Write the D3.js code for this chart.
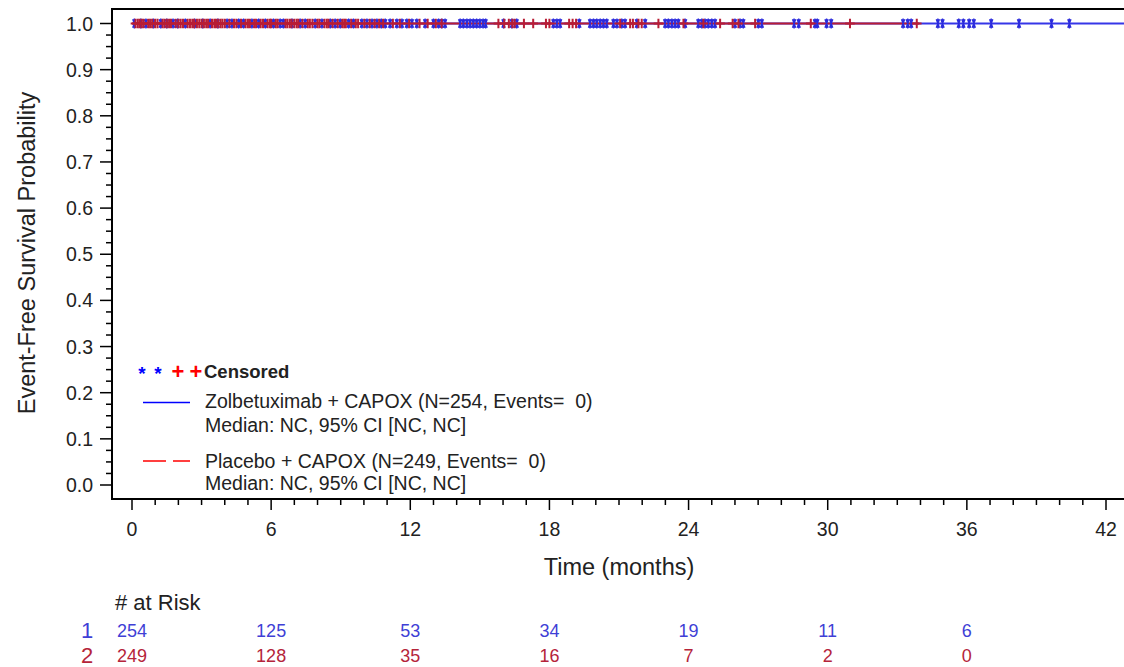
<!DOCTYPE html>
<html lang="en">
<head>
<meta charset="utf-8">
<title>Event-Free Survival - Kaplan-Meier</title>
<script src="https://d3js.org/d3.v7.min.js"></script>
<style>
  body { margin: 0; background: #fff; }
  svg text { font-family: "Liberation Sans", Arial, sans-serif; fill: #222; }
</style>
</head>
<body>
<script>
// ---- data ----
var armNames = ["Zolbetuximab + CAPOX (N=254, Events=  0)", "Placebo + CAPOX (N=249, Events=  0)"];
var medianText = ["Median: NC, 95% CI [NC, NC]", "Median: NC, 95% CI [NC, NC]"];

// censoring times (months), both arms stay at probability 1.0
var blueCensor = [0.1, 0.38, 0.6, 0.92, 1.24, 1.5, 1.77, 1.97, 2.3, 2.7, 3.05, 3.37, 3.7, 4.1, 4.31, 4.6, 4.81,
  5.17, 5.46, 5.75, 6.1, 6.39, 6.53, 6.9, 7.25, 7.47, 7.9, 8.19, 8.55, 8.76, 8.98, 9.34, 9.55, 9.91, 10.13,
  10.35, 10.56, 10.75, 10.92, 11.13, 11.42, 11.64, 11.85, 12.07, 12.28, 12.64, 13.0, 13.22, 13.36, 13.5,
  14.15, 14.29, 14.44, 14.58, 14.72, 14.86, 15.0, 15.14, 15.25, 16.02, 16.38, 16.59,
  18.17, 18.32, 18.46, 19.29, 19.75, 19.9, 20.04, 20.19, 20.33, 20.47, 20.76, 20.91, 21.12, 21.26,
  21.77, 22.13, 22.99, 23.13, 23.28, 23.42, 23.56, 23.85,
  24.42, 24.57, 24.71, 24.85, 25.0, 25.14, 26.0, 26.22, 26.36, 27.01, 27.16,
  28.55, 28.75, 29.45, 29.55, 29.95, 30.15, 33.25, 33.45, 33.6, 34.75, 34.95,
  35.65, 35.85, 36.1, 36.3, 37.05, 38.25, 39.65, 40.42];

var redCensor = [0.15, 0.25, 0.33, 0.42, 0.5, 0.7, 0.78, 0.87, 1.0, 1.1, 1.32, 1.4, 1.5, 1.6, 1.68, 1.88, 2.0, 2.1,
  2.2, 2.4, 2.5, 2.6, 2.68, 2.8, 2.9, 3.0, 3.1, 3.2, 3.28, 3.45, 3.55, 3.62, 3.72, 3.82, 3.9, 4.0, 4.2, 4.4, 4.5,
  4.7, 4.9, 5.0, 5.08, 5.27, 5.35, 5.55, 5.65, 5.85, 5.95, 6.0, 6.2, 6.28, 6.62, 6.7, 6.8, 6.88, 7.0, 7.1, 7.17,
  7.35, 7.58, 7.67, 7.78, 8.0, 8.08, 8.3, 8.4, 8.47, 8.65, 8.87, 9.07, 9.15, 9.22, 9.45, 9.65, 9.75, 10.02,
  10.25, 10.46, 10.66, 10.83, 11.25, 11.55, 11.95, 12.4, 12.75, 13.1, 13.35,
  15.8, 16.05, 16.25, 16.4, 16.5, 16.9, 17.3, 17.85, 18.0, 18.85, 19.0, 19.15, 21.05, 21.48, 21.6, 21.84,
  21.98, 22.7, 23.78, 24.64, 25.36, 25.9, 26.15, 26.87, 29.27, 30.96, 33.84];

var atRiskTimes = [0, 6, 12, 18, 24, 30, 36];
var atRiskBlue = [254, 125, 53, 34, 19, 11, 6];
var atRiskRed = [249, 128, 35, 16, 7, 2, 0];

var xTickVals = [0, 6, 12, 18, 24, 30, 36, 42];
var yTickVals = [0, 0.1, 0.2, 0.3, 0.4, 0.5, 0.6, 0.7, 0.8, 0.9, 1.0];

// ---- drawing ----
var W = 1124, H = 667;
var blue = "#3636e8", blueMark = "#2b2bdc", red = "#b81d35";

var svg = d3.select("body").append("svg").attr("width", W).attr("height", H);

var x = d3.scaleLinear().domain([0, 42]).range([132, 1106]);
var y = d3.scaleLinear().domain([0, 1]).range([485, 23.5]);

var frameL = 112, frameT = 9, frameB = 499, frameR = x(43.2);

// frame
svg.append("path")
    .attr("d", "M" + frameR + "," + frameT + "H" + frameL + "V" + frameB + "H" + frameR)
    .attr("fill", "none").attr("stroke", "#000").attr("stroke-width", 2);

// y axis ticks
var yMinor = d3.range(0, 1.0001, 0.025);
svg.append("g").selectAll("line").data(yMinor).join("line")
    .attr("x1", function(d) { return Math.abs(d * 10 - Math.round(d * 10)) < 1e-6 ? frameL - 12 : frameL - 6; })
    .attr("x2", frameL)
    .attr("y1", d => y(d)).attr("y2", d => y(d))
    .attr("stroke", "#000").attr("stroke-width", 1.5);

svg.append("g").selectAll("text").data(yTickVals).join("text")
    .attr("x", 93).attr("y", d => y(d))
    .attr("dy", "0.36em").attr("text-anchor", "end")
    .style("font-size", "19.5px")
    .text(d => d3.format(".1f")(d));

// x axis ticks
var xMinor = d3.range(0, 43, 1);
svg.append("g").selectAll("line").data(xMinor).join("line")
    .attr("x1", d => x(d)).attr("x2", d => x(d))
    .attr("y1", frameB)
    .attr("y2", d => d % 6 === 0 ? frameB + 11 : frameB + 6)
    .attr("stroke", "#000").attr("stroke-width", 1.5);

svg.append("g").selectAll("text").data(xTickVals).join("text")
    .attr("x", d => x(d)).attr("y", 536)
    .attr("text-anchor", "middle")
    .style("font-size", "19.5px")
    .text(d => d);

// axis titles
svg.append("text")
    .attr("x", x(21)).attr("y", 575)
    .attr("text-anchor", "middle")
    .style("font-size", "23.5px")
    .text("Time (months)");

svg.append("text")
    .attr("transform", "translate(35,253) rotate(-90)")
    .attr("text-anchor", "middle")
    .style("font-size", "23.5px")
    .text("Event-Free Survival Probability");

// survival lines (no events, flat at 1.0)
var line = d3.line().x(d => x(d[0])).y(d => y(d[1]));
var plot = svg.append("g");
plot.append("path")
    .attr("d", line([[0, 1], [43.2, 1]]))
    .attr("stroke", blue).attr("stroke-width", 2).attr("fill", "none");
plot.append("path")
    .attr("d", line([[0, 1], [d3.max(redCensor) + 0.1, 1]]))
    .attr("stroke", red).attr("stroke-width", 2).attr("fill", "none");

// censor marks: narrow asterisk for arm 1, plus for arm 2
var asterisk = {
  draw: function(ctx, size) {
    var r = Math.sqrt(size) / 2, dx = r * 0.32, dy = r * 0.85;
    ctx.moveTo(0, -r); ctx.lineTo(0, r);
    ctx.moveTo(-dx, -dy); ctx.lineTo(dx, dy);
    ctx.moveTo(-dx, dy); ctx.lineTo(dx, -dy);
  }
};
var plus = {
  draw: function(ctx, size) {
    var r = Math.sqrt(size) / 2;
    ctx.moveTo(0, -r); ctx.lineTo(0, r);
    ctx.moveTo(-r, 0); ctx.lineTo(r, 0);
  }
};

plot.append("g").selectAll("path").data(blueCensor).join("path")
    .attr("transform", d => "translate(" + x(d) + "," + y(1) + ")")
    .attr("d", d3.symbol().type(asterisk).size(100))
    .attr("fill", "none").attr("stroke", blueMark).attr("stroke-width", 1.4);

plot.append("g").selectAll("path").data(redCensor).join("path")
    .attr("transform", d => "translate(" + x(d) + "," + y(1) + ")")
    .attr("d", d3.symbol().type(plus).size(92))
    .attr("fill", "none").attr("stroke", red).attr("stroke-width", 2);

// legend
var lg = svg.append("g");
lg.selectAll("text.star").data([142, 158]).join("text")
    .attr("class", "star").attr("x", d => d).attr("y", 380)
    .attr("text-anchor", "middle")
    .style("font-size", "19px").style("font-weight", "bold").style("fill", "#0000ff")
    .text("*");
lg.selectAll("text.plus").data([178, 196]).join("text")
    .attr("class", "plus").attr("x", d => d).attr("y", 379)
    .attr("text-anchor", "middle")
    .style("font-size", "22px").style("font-weight", "bold").style("fill", "#ff0000")
    .text("+");
lg.append("text").attr("x", 204).attr("y", 378)
    .style("font-size", "18.5px").style("font-weight", "bold")
    .text("Censored");

lg.append("line").attr("x1", 143).attr("x2", 190).attr("y1", 402.5).attr("y2", 402.5)
    .attr("stroke", "#0000ff").attr("stroke-width", 1.6);
lg.append("line").attr("x1", 143).attr("x2", 190).attr("y1", 461).attr("y2", 461)
    .attr("stroke", "#ff0000").attr("stroke-width", 1.6).attr("stroke-dasharray", "23,7");

var legRows = [armNames[0], medianText[0], armNames[1], medianText[1]];
var legY = [408, 431.5, 467.5, 489.5];
lg.selectAll("text.row").data(legRows).join("text")
    .attr("class", "row").attr("x", 205).attr("y", (d, i) => legY[i])
    .style("font-size", "19.5px").style("white-space", "pre")
    .text(d => d);

// numbers at risk
svg.append("text").attr("x", 115).attr("y", 610)
    .style("font-size", "22px").text("# at Risk");

var riskRows = [{ lab: "1", vals: atRiskBlue, col: "#3f3fd6", yy: 637 },
                { lab: "2", vals: atRiskRed, col: "#b5243a", yy: 662 }];
riskRows.forEach(function(r) {
  svg.append("text").attr("x", 87).attr("y", r.yy + 1)
      .attr("text-anchor", "middle")
      .style("font-size", "22px").style("fill", r.col)
      .text(r.lab);
  svg.append("g").selectAll("text").data(r.vals).join("text")
      .attr("x", (d, i) => x(atRiskTimes[i])).attr("y", r.yy)
      .attr("text-anchor", "middle")
      .style("font-size", "18px").style("fill", r.col)
      .text(d => d);
});
</script>
</body>
</html>
